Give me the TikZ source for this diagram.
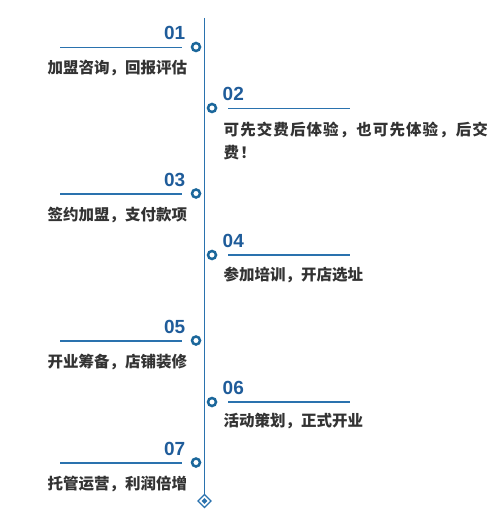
\documentclass[tikz,border=0pt]{standalone}
\usepackage{fontspec}
\usetikzlibrary{shapes.geometric}
\setmainfont{Liberation Sans}
\newfontfamily\cjk{Noto Sans CJK SC}
\newfontfamily\cjkw[LetterSpace=7]{Noto Sans CJK SC}
\newfontfamily\numf{Liberation Sans}
\definecolor{numblue}{HTML}{1F5C9A}
\definecolor{lineblue}{HTML}{2A72AE}
\definecolor{ringblue}{HTML}{1B679B}
\definecolor{txtgray}{HTML}{333333}
\begin{document}
\begin{tikzpicture}[x=1pt,y=-1pt,
  num/.style={inner sep=0pt,text=numblue,font=\numf\bfseries\fontsize{19}{19}\selectfont},
  txt/.style={inner sep=0pt,text=txtgray,font=\cjk\bfseries\fontsize{15.5}{15.5}\selectfont},
  txtw/.style={inner sep=0pt,text=txtgray,font=\cjkw\bfseries\fontsize{15.5}{15.5}\selectfont},
  tick/.style={draw=lineblue,line width=1.6pt},
  ring/.style={circle,draw=ringblue,line width=2.5pt,fill=white,minimum size=8pt,inner sep=0pt}]
\useasboundingbox (0,0) rectangle (500,526);
% spine
\coordinate (top) at (204.5,18);
\node[diamond,draw=lineblue,line width=1.3pt,fill=white,minimum size=13.5pt,inner sep=0pt] (end) at (204.5,501) {};
\draw[draw=lineblue,line width=1.4pt] (top) -- (end.north);
\node[diamond,fill=lineblue,minimum size=6pt,inner sep=0pt] (endin) at (end.center) {};
% left items
\foreach \i/\y/\t in {01/47/加盟咨询，回报评估, 03/193.5/签约加盟，支付款项, 05/340.5/开业筹备，店铺装修, 07/462.5/托管运营，利润倍增}{
  \coordinate (la\i) at (60,\y+0.5);
  \coordinate (lb\i) at (182,\y+0.5);
  \draw[tick] (la\i) -- (lb\i);
  \node[ring] (c\i) at (196,\y) {};
  \node[num,anchor=base east] (n\i) at (185.5,\y-7) {\i};
  \node[txt,anchor=west] (t\i) at (47.5,\y+21) {\t};
}
% right items
\foreach \i/\y/\t in {04/255/参加培训，开店选址, 06/402/活动策划，正式开业}{
  \coordinate (la\i) at (228,\y);
  \coordinate (lb\i) at (350,\y);
  \draw[tick] (la\i) -- (lb\i);
  \node[ring] (c\i) at (212,\y) {};
  \node[num,anchor=base west] (n\i) at (222.5,\y-7.5) {\i};
  \node[txt,anchor=west] (t\i) at (223.5,\y+19.5) {\t};
}
\coordinate (la02) at (228,108.5);
\coordinate (lb02) at (350,108.5);
\draw[tick] (la02) -- (lb02);
\node[ring] (c02) at (212,108) {};
\node[num,anchor=base west] (n02) at (222.5,101) {02};
\node[txtw,anchor=west] (t02a) at (223.5,130) {可先交费后体验，也可先体验，后交};
\node[txtw,anchor=west] (t02b) at (223.5,153) {费！};
\end{tikzpicture}
\end{document}
